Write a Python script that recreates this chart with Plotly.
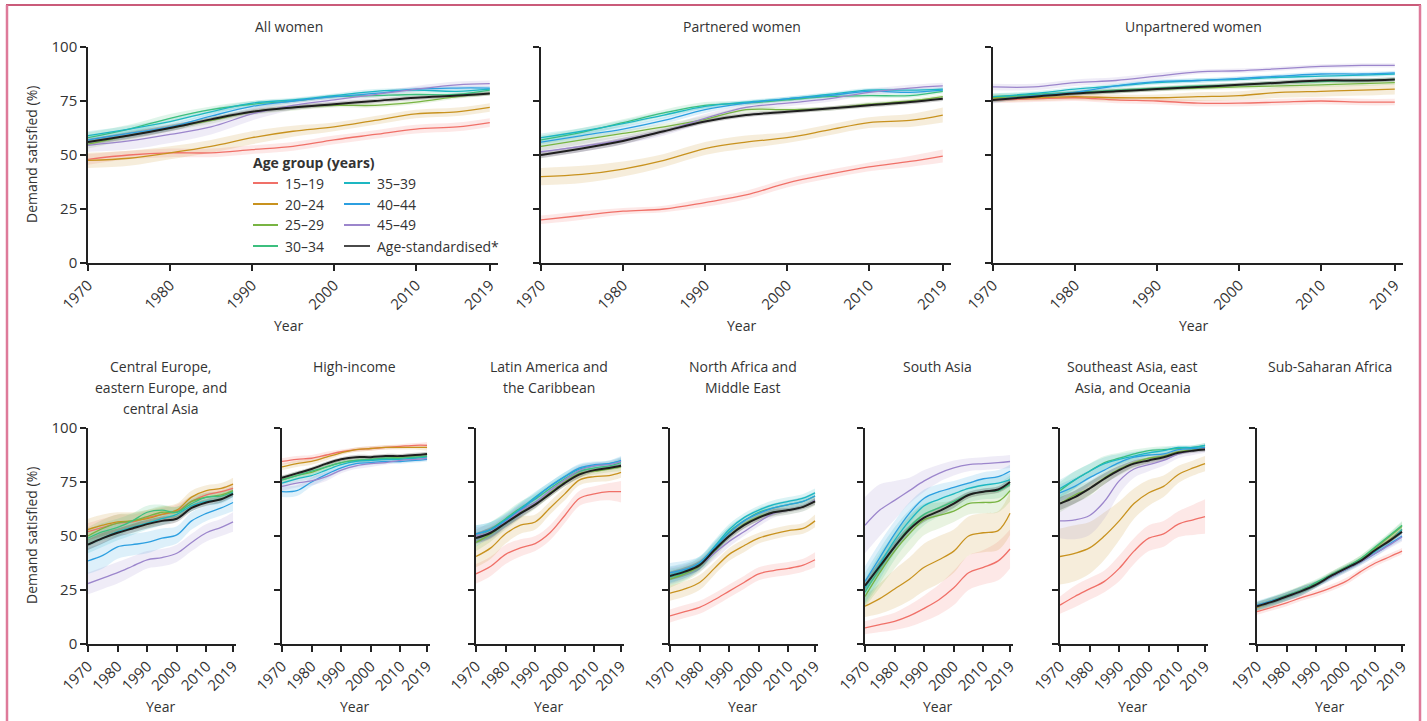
import plotly.graph_objects as go

W, H = 1427, 721

YEARS = [1970, 1975, 1980, 1985, 1990, 1995, 2000, 2005, 2010, 2015, 2019]
AGE_GROUPS = ["15–19", "20–24", "25–29", "30–34", "35–39", "40–44", "45–49", "Age-standardised*"]
LINE_COLORS = ["#F07068", "#C8921E", "#78B443", "#3CBF7E", "#1DB7C2", "#2C9FE0", "#9C86CC", "#1E1E1E"]
X_TICKS = [1970, 1980, 1990, 2000, 2010, 2019]
Y_TICKS = [0, 25, 50, 75, 100]

# ---- central estimates (rows follow AGE_GROUPS) ----
ALL_WOMEN = [
    [48, 50, 51, 51, 52.5, 54, 57, 59.5, 62, 63, 65],
    [47.5, 48.5, 51, 54, 58, 61, 63, 66, 69, 70, 72],
    [55, 59, 62.5, 66, 70, 72, 73, 73, 74.5, 77, 78.5],
    [58, 62, 67, 71, 73.5, 75, 77, 77.5, 78, 78, 80],
    [59, 62, 65.5, 70, 74, 75.5, 77.5, 79.5, 80, 79.5, 80.5],
    [57, 60, 63, 68, 72.5, 75, 77, 78.5, 80.5, 81, 81],
    [54.5, 56.5, 59.5, 63, 69, 73, 75.5, 78, 80.5, 82.5, 83],
    [56, 59, 62.5, 66.5, 70, 72, 73.5, 75, 76.5, 77.5, 78.5],
]
PARTNERED = [
    [20, 22, 24, 25, 28, 31.5, 37, 41, 44.5, 47, 49.5],
    [40, 41, 43.5, 47.5, 53, 56, 58, 61.5, 65, 66, 68.5],
    [54, 57, 60, 63, 66.5, 71, 71, 71.5, 73.5, 75, 77],
    [57, 60.5, 65, 69.5, 73, 74, 75.5, 77, 77.5, 77.5, 79.5],
    [58, 61, 64.5, 68.5, 72.5, 74.5, 76, 78, 80, 80, 80.5],
    [56, 59, 62, 66, 71, 74, 76, 77.5, 79.5, 79, 80],
    [51.5, 54, 57, 61, 67, 72, 74, 76, 79, 81, 82],
    [50, 53, 56.5, 61, 65.5, 68.5, 70, 71.5, 73, 74.5, 76],
]
UNPARTNERED = [
    [75.5, 76, 76.5, 75.5, 75, 74, 74, 74.5, 75, 74.5, 74.5],
    [76, 76.5, 77, 76.5, 76.5, 77, 77.5, 79, 79.5, 80, 80.5],
    [76.5, 77.5, 78.5, 79.5, 80.5, 81, 81.5, 82, 82.5, 83, 83.5],
    [77, 78, 79, 80, 81, 82, 82.5, 83.5, 84, 84.5, 85],
    [77, 78.5, 80.5, 82, 83.5, 84.5, 85, 86, 86.5, 87, 87.5],
    [75.5, 77.5, 79, 82, 84, 84.5, 85.5, 86.5, 87.5, 87.5, 88],
    [81.5, 81.5, 83.5, 84.5, 86.5, 88.5, 89, 90, 91, 91.5, 91.5],
    [75.5, 77, 78.5, 79.5, 80.5, 81.5, 82.5, 83.5, 84.5, 84.5, 85],
]
CENTRAL_EUROPE = [
    [52, 54, 56, 56.5, 58.5, 60, 61.5, 66, 69, 70.5, 72],
    [53, 55, 56.5, 57, 58, 60, 62, 68, 71, 72, 74],
    [50, 53.5, 56, 57, 59, 61, 61, 66, 68, 69, 71],
    [49, 52, 54, 57, 61, 62, 61, 65, 68, 68.5, 70.5],
    [46, 49, 52, 54, 56, 58, 60, 64, 66, 67, 70],
    [38.5, 41, 45, 46, 47, 49, 50.5, 57, 60.5, 63, 65.5],
    [28, 30.5, 33, 36, 39, 40, 42, 47, 51.5, 54, 56.5],
    [46, 49, 51.5, 53.5, 55.5, 57, 58, 63, 65.5, 67, 69.5],
]
HIGH_INCOME = [
    [84.5, 85.5, 86, 87.5, 89, 90, 90.5, 91, 91.5, 92, 92],
    [82, 83.5, 84.5, 86.5, 88.5, 90, 90.5, 91, 91, 91, 91],
    [76, 78, 79.5, 82, 84, 85, 85.5, 86, 86.5, 86.5, 87],
    [76, 78, 80, 82, 84, 85, 85.5, 86, 86, 86.5, 87],
    [74.5, 76.5, 78, 80.5, 83, 84.5, 85, 85.5, 85.5, 86, 86.5],
    [70.5, 71, 75, 78.5, 81.5, 83.5, 84, 84.5, 84.5, 85, 85.5],
    [73, 74.5, 75.5, 77.5, 80.5, 82.5, 83.5, 84, 85, 85.5, 86],
    [77, 79, 81, 83.5, 85.5, 86.5, 86.5, 87, 87, 87.5, 88],
]
LATIN_AMERICA = [
    [32.5, 36, 41.5, 44.5, 46.5, 51.5, 59.5, 67.5, 69.5, 70.5, 70.5],
    [40.5, 44.5, 51, 55, 56.5, 63, 69.5, 76, 77.5, 78, 79.5],
    [47, 51, 56, 61, 65, 70, 75, 79, 80, 81, 82],
    [49, 53, 58, 63, 67, 72, 76.5, 80, 81.5, 82.5, 84],
    [51, 53, 57.5, 62.5, 68, 73, 77.5, 81, 82.5, 83.5, 84.5],
    [51, 53, 57, 62, 67.5, 73, 77.5, 81.5, 83, 83.5, 85],
    [50, 52, 56.5, 61.5, 65.5, 71, 76, 80.5, 82.5, 83, 84.5],
    [49, 51.5, 56, 60.5, 64.5, 69.5, 74.5, 78.5, 80.5, 81.5, 82.5],
]
NORTH_AFRICA = [
    [13, 15, 17, 20.5, 24.5, 28.5, 32.5, 34, 35, 36.5, 39],
    [23.5, 25.5, 28.5, 35, 41.5, 45.5, 49, 51, 52.5, 53.5, 57],
    [30, 32.5, 36, 43, 50, 55.5, 59, 61, 62, 63.5, 66],
    [31, 33, 37, 44, 52, 57, 61, 63, 64.5, 66, 68.5],
    [32, 34, 37.5, 45, 53, 58.5, 62, 64.5, 66, 67.5, 70],
    [33, 34.5, 37.5, 44.5, 51.5, 57, 60.5, 63, 64.5, 66, 68.5],
    [31.5, 33.5, 36.5, 42, 47.5, 52, 56.5, 60.5, 62, 63.5, 66.5],
    [31.5, 33.5, 36.5, 43.5, 50, 55, 58.5, 61, 62, 63.5, 66],
]
SOUTH_ASIA = [
    [7.5, 9, 10.5, 13, 16.5, 20.5, 26, 33, 35.5, 38.5, 44],
    [17.5, 21, 25.5, 30, 35.5, 39, 43, 50, 51.5, 52.5, 60.5],
    [22, 33, 43, 51, 57.5, 59.5, 61.5, 65, 65.5, 66, 71],
    [24, 35, 45, 54, 60, 63, 66, 69, 70.5, 71, 74],
    [26, 37, 48, 57, 64, 67, 69.5, 72, 73.5, 74.5, 76],
    [29, 40, 51, 60.5, 67.5, 70.5, 72.5, 74.5, 76.5, 77.5, 80],
    [55, 62, 66.5, 71, 75.5, 79, 81.5, 83, 83.5, 84, 84.5],
    [27, 36, 45, 53, 58.5, 61.5, 65, 69, 70.5, 71.5, 75],
]
SOUTHEAST_ASIA = [
    [18, 22, 25.5, 29, 35, 43, 49, 51, 55.5, 57.5, 59],
    [40.5, 42, 44.5, 50, 57, 65, 70, 73, 78.5, 81.5, 83.5],
    [65, 69, 72, 77, 81, 84, 86, 87, 89, 90, 91],
    [71, 76, 80, 84, 86, 88, 89.5, 90, 90.5, 91, 92],
    [72, 76, 80, 83.5, 85.5, 87, 88.5, 89.5, 91, 91, 92],
    [70, 73, 77, 80.5, 84, 86.5, 87.5, 88, 90, 90.5, 91],
    [57, 57.5, 59.5, 66, 75.5, 81, 83, 85, 88, 89.5, 90.5],
    [65, 68, 72, 76.5, 80.5, 83.5, 85, 86.5, 88.5, 89.5, 90],
]
SUB_SAHARAN = [
    [15, 17, 19, 21.5, 23.5, 26, 29, 33.5, 37.5, 40.5, 43],
    [17, 19.5, 22, 24.5, 27.5, 31.5, 35, 38.5, 43.5, 48.5, 53],
    [17.5, 19.5, 22, 25, 28, 32, 35.5, 39.5, 44.5, 50, 54.5],
    [17.5, 20, 22.5, 25, 28.5, 32, 35.5, 39.5, 45, 50.5, 55],
    [17.5, 19.5, 22, 24.5, 27.5, 31.5, 35, 38.5, 43, 48, 53],
    [18, 20, 22, 24.5, 27.5, 31, 34.5, 38, 42, 46.5, 50],
    [17.5, 19.5, 22, 24.5, 27.5, 31, 34.5, 38, 42, 46, 49.5],
    [17.5, 19.5, 22, 24.5, 27.5, 31.5, 35, 38.5, 43.5, 48, 52],
]

# ---- half-widths of the uncertainty intervals (rows follow AGE_GROUPS) ----
ALL_WOMEN_HW = [
    [2.5, 2, 2, 2, 2, 2, 2, 2, 2, 2, 2],
    [3.5, 3.5, 3, 3, 3, 2.5, 2, 2, 2, 2, 2],
    [2, 2, 1.5, 1.5, 1.5, 1.5, 1, 1, 1, 1, 1],
    [2.5, 2, 2, 1.5, 1.5, 1, 1, 1, 1, 1, 1],
    [2, 1.5, 1.5, 1.5, 1, 1, 1, 1, 1, 1, 1],
    [2, 2, 1.5, 1.5, 1.5, 1, 1, 1, 1, 1, 1],
    [3, 4, 4, 3.5, 3, 2, 1.5, 1.5, 1.5, 1.5, 1.5],
    [1.5, 1.5, 1.5, 1, 1, 1, 1, 1, 1, 1, 1],
]
PARTNERED_HW = [
    [2, 2, 1.5, 1.5, 2, 2, 2, 2, 2, 2.5, 3],
    [4, 4, 3.5, 3, 3, 3, 2.5, 2.5, 2.5, 3, 3.5],
    [2, 2, 1.5, 1.5, 1.5, 1.5, 1, 1, 1, 1, 1],
    [2, 2, 1.5, 1.5, 1.5, 1, 1, 1, 1, 1, 1],
    [2, 1.5, 1.5, 1.5, 1, 1, 1, 1, 1, 1, 1],
    [2, 2, 1.5, 1.5, 1.5, 1, 1, 1, 1, 1, 1],
    [2.5, 2.5, 2, 2, 2, 1.5, 1.5, 1.5, 1.5, 1.5, 1.5],
    [1.5, 1.5, 1.5, 1, 1, 1, 1, 1, 1, 1, 1],
]
UNPARTNERED_HW = [
    [1.5, 1.5, 1.5, 1.5, 1.5, 1.5, 1.5, 1.5, 1.5, 1.5, 1.5],
    [1.5, 1.5, 1.5, 1.5, 1.5, 2, 2, 2.5, 2.5, 2.5, 2.5],
    [1.5, 1, 1, 1, 1, 1, 1, 1, 1, 1, 1],
    [1.5, 1, 1, 1, 1, 1, 1, 1, 1, 1, 1],
    [1.5, 1, 1, 1, 1, 1, 1, 1, 1, 1, 1],
    [1.5, 1, 1, 1, 1, 1, 1, 1, 1, 1, 1],
    [1.5, 1.5, 1.5, 1.5, 1.5, 1, 1, 1, 1, 1, 1],
    [1, 1, 1, 1, 1, 1, 1, 1, 1, 1, 1],
]
CENTRAL_EUROPE_HW = [
    [4, 4, 4, 3.5, 3, 3, 3, 2.5, 2, 2, 2.5],
    [5, 5, 4.5, 4, 4, 3.5, 3, 3, 2.5, 2.5, 3],
    [4, 4, 4, 3.5, 3, 3, 2.5, 2.5, 2, 2, 2],
    [4, 4, 4, 3.5, 3, 2.5, 2.5, 2, 2, 2, 2],
    [4, 4, 4, 3.5, 3, 3, 2.5, 2.5, 2, 2, 2],
    [6, 6, 5.5, 5, 5, 4.5, 4, 4, 3.5, 3.5, 4],
    [5, 5, 5, 4.5, 4, 4, 4, 4, 4, 4, 4.5],
    [2.5, 2.5, 2, 2, 2, 2, 1.5, 1.5, 1.5, 1.5, 1.5],
]
HIGH_INCOME_HW = [
    [1.5, 1.5, 1.5, 1.5, 1, 1, 1, 1, 1, 1, 1.5],
    [1.5, 1.5, 1.5, 1.5, 1, 1, 1, 1, 1, 1, 1.5],
    [1.5, 1.5, 1.5, 1.5, 1, 1, 1, 1, 1, 1, 1],
    [1.5, 1.5, 1.5, 1.5, 1, 1, 1, 1, 1, 1, 1],
    [1.5, 1.5, 1.5, 1.5, 1, 1, 1, 1, 1, 1, 1],
    [2.5, 2.5, 2, 2, 1.5, 1.5, 1, 1, 1, 1, 1],
    [2, 2, 2, 2, 1.5, 1.5, 1.5, 1, 1, 1, 1],
    [1, 1, 1, 1, 1, 1, 1, 1, 1, 1, 1],
]
LATIN_AMERICA_HW = [
    [4.5, 4.5, 4.5, 4, 3.5, 3.5, 3.5, 3.5, 3.5, 4, 5],
    [5, 5, 4.5, 4, 3.5, 3, 3, 2.5, 2.5, 2.5, 2.5],
    [4, 3.5, 3, 3, 2.5, 2, 2, 2, 1.5, 1.5, 2],
    [4, 3.5, 3, 3, 2.5, 2, 2, 2, 1.5, 1.5, 2],
    [4, 3.5, 3, 3, 2.5, 2, 2, 2, 1.5, 1.5, 2],
    [4, 3.5, 3, 3, 2.5, 2, 2, 2, 1.5, 1.5, 2],
    [4, 3.5, 3, 3, 2.5, 2, 2, 2, 1.5, 1.5, 2],
    [2.5, 2.5, 2, 2, 1.5, 1.5, 1.5, 1.5, 1, 1, 1],
]
NORTH_AFRICA_HW = [
    [3, 3, 3, 3, 3, 3, 3, 3, 3, 3, 3.5],
    [3.5, 3.5, 3.5, 3, 3, 3, 2.5, 2.5, 2.5, 2.5, 3],
    [4, 3.5, 3, 3, 2.5, 2, 2, 2, 2, 2, 2],
    [4, 3.5, 3, 3, 2.5, 2, 2, 2, 2, 2, 2],
    [4, 3.5, 3, 3, 2.5, 2, 2, 2, 2, 2, 2],
    [4.5, 4, 3, 3, 2.5, 2, 2, 2, 2, 2, 2],
    [4, 3.5, 3, 3, 2.5, 2, 2, 2, 2, 2, 2],
    [2, 2, 2, 1.5, 1.5, 1.5, 1.5, 1.5, 1, 1, 1.5],
]
SOUTH_ASIA_HW = [
    [3, 3.5, 4, 5, 6, 7, 8, 8, 8, 9, 9],
    [5, 7, 9, 10, 11, 11, 10, 9, 9, 9, 10],
    [5, 7, 8, 8, 7, 6, 5, 5, 5, 5, 5],
    [6, 7, 6, 6, 5, 4, 4, 3.5, 3.5, 3.5, 4],
    [7, 7, 6, 5, 4, 3.5, 3, 3, 3, 3, 3],
    [7, 7, 6, 5, 4, 3.5, 3, 3, 3, 3, 3],
    [13, 12, 9, 6, 5, 4, 3.5, 3, 3, 3, 3],
    [2.5, 2.5, 2.5, 2, 2, 2, 2, 1.5, 1.5, 1.5, 2],
]
SOUTHEAST_ASIA_HW = [
    [4, 5, 5, 5, 6, 6, 6, 6, 6, 7, 8],
    [13, 13, 12, 11, 9, 7, 6, 5, 4, 3.5, 3.5],
    [4, 4, 3.5, 3, 3, 2.5, 2, 1.5, 1.5, 1, 1],
    [4, 4, 3.5, 3, 2.5, 2, 1.5, 1.5, 1, 1, 1],
    [4, 4, 3.5, 3, 2.5, 2, 1.5, 1.5, 1, 1, 1],
    [4, 4, 3.5, 3, 2.5, 2, 1.5, 1.5, 1, 1, 1],
    [8, 9, 9, 8, 6, 4, 3, 2.5, 2, 2, 2],
    [3, 3, 3, 2.5, 2, 1.5, 1.5, 1.5, 1, 1, 1],
]
SUB_SAHARAN_HW = [
    [1.5, 1.5, 1.5, 1.5, 1.5, 1.5, 1.5, 1.5, 1.5, 1.5, 1.5],
    [2, 2, 2, 2, 1.5, 1.5, 1.5, 1.5, 1.5, 1.5, 2],
    [2, 2, 2, 2, 1.5, 1.5, 1.5, 1.5, 1.5, 1.5, 2],
    [2, 2, 2, 2, 1.5, 1.5, 1.5, 1.5, 1.5, 1.5, 2],
    [2, 2, 2, 2, 1.5, 1.5, 1.5, 1.5, 1.5, 1.5, 2],
    [2, 2, 2, 2, 1.5, 1.5, 1.5, 1.5, 1.5, 1.5, 2],
    [2, 2, 2, 2, 1.5, 1.5, 1.5, 1.5, 1.5, 1.5, 2],
    [1, 1, 1, 1, 1, 1, 1, 1, 1, 1, 1],
]

PANEL_TITLES = [
    "All women", "Partnered women", "Unpartnered women",
    "Central Europe,<br>eastern Europe, and<br>central Asia", "High-income",
    "Latin America and<br>the Caribbean", "North Africa and<br>Middle East", "South Asia",
    "Southeast Asia, east<br>Asia, and Oceania", "Sub-Saharan Africa",
]
PANEL_DATA = [ALL_WOMEN, PARTNERED, UNPARTNERED, CENTRAL_EUROPE, HIGH_INCOME,
              LATIN_AMERICA, NORTH_AFRICA, SOUTH_ASIA, SOUTHEAST_ASIA, SUB_SAHARAN]
PANEL_HW = [ALL_WOMEN_HW, PARTNERED_HW, UNPARTNERED_HW, CENTRAL_EUROPE_HW, HIGH_INCOME_HW,
            LATIN_AMERICA_HW, NORTH_AFRICA_HW, SOUTH_ASIA_HW, SOUTHEAST_ASIA_HW, SUB_SAHARAN_HW]

# ---- layout geometry in pixels ----
TOP_X0 = [88, 541, 993]
TOP_W = 410            # covers 1970-2020
BOT_X0 = [88, 282, 476, 670, 865, 1060, 1257]
BOT_W = 148
TOP_Y = (47, 263)      # (100, 0)
BOT_Y = (428, 644)

FONT = "Open Sans"
TXT = "#333333"
AX = "#222222"


def px(x):
    return x / W


def py(y):
    return 1 - y / H


def rgba(hex_c, a):
    h = hex_c.lstrip("#")
    r, g, b = int(h[0:2], 16), int(h[2:4], 16), int(h[4:6], 16)
    return f"rgba({r},{g},{b},{a})"


fig = go.Figure()
layout = dict(
    width=W, height=H, margin=dict(l=0, r=0, t=0, b=0, pad=0, autoexpand=False),
    paper_bgcolor="white", plot_bgcolor="white", showlegend=False,
    font=dict(family=FONT, color=TXT, size=14),
)
annotations = []
shapes = []

geoms = []
for i in range(3):
    geoms.append((TOP_X0[i], TOP_W, TOP_Y))
for i in range(7):
    geoms.append((BOT_X0[i], BOT_W, BOT_Y))

for p, (x0, w, (ytop, ybot)) in enumerate(geoms):
    n = p + 1
    xa = "x" if n == 1 else f"x{n}"
    ya = "y" if n == 1 else f"y{n}"
    data = PANEL_DATA[p]
    hw = PANEL_HW[p]
    # uncertainty bands
    for s in range(len(AGE_GROUPS)):
        lo = [v - h for v, h in zip(data[s], hw[s])]
        hi = [v + h for v, h in zip(data[s], hw[s])]
        alpha = 0.16 if s < 7 else 0.22
        fig.add_trace(go.Scatter(x=YEARS, y=lo, xaxis=xa, yaxis=ya, mode="lines",
                                 line=dict(width=0, shape="spline", color=LINE_COLORS[s]),
                                 hoverinfo="skip", showlegend=False))
        fig.add_trace(go.Scatter(x=YEARS, y=hi, xaxis=xa, yaxis=ya, mode="lines",
                                 line=dict(width=0, shape="spline", color=LINE_COLORS[s]),
                                 fill="tonexty", fillcolor=rgba(LINE_COLORS[s], alpha),
                                 hoverinfo="skip", showlegend=False))
    # central lines
    for s in range(len(AGE_GROUPS)):
        fig.add_trace(go.Scatter(x=YEARS, y=data[s], xaxis=xa, yaxis=ya, mode="lines",
                                 name=AGE_GROUPS[s],
                                 line=dict(width=2.0 if s == 7 else 1.3, shape="spline",
                                           color=LINE_COLORS[s]),
                                 showlegend=False))
    first_in_row = p in (0, 3)
    xkey = "xaxis" if n == 1 else f"xaxis{n}"
    ykey = "yaxis" if n == 1 else f"yaxis{n}"
    layout[xkey] = dict(
        domain=[px(x0), px(x0 + w)], anchor=ya, range=[1970, 2020], automargin=False,
        tickvals=X_TICKS, ticktext=[str(t) for t in X_TICKS], tickangle=-45,
        showline=True, linecolor=AX, linewidth=1.5, ticks="outside", ticklen=6,
        tickwidth=1.5, tickcolor=AX, showgrid=False, zeroline=False,
        tickfont=dict(family=FONT, size=15, color=TXT), fixedrange=True,
    )
    layout[ykey] = dict(
        domain=[py(ybot), py(ytop)], anchor=xa, range=[0, 100], automargin=False,
        tickvals=Y_TICKS, showticklabels=first_in_row,
        showline=True, linecolor=AX, linewidth=1.5, ticks="outside", ticklen=6,
        tickwidth=1.5, tickcolor=AX, showgrid=False, zeroline=False,
        tickfont=dict(family=FONT, size=15, color=TXT), fixedrange=True,
    )
    # panel title (one annotation per line for exact spacing)
    span_w = w * 49 / 50
    cx = x0 + span_w / 2
    lines = PANEL_TITLES[p].split("<br>")
    y_first = 27 if p < 3 else 366
    for k, line in enumerate(lines):
        annotations.append(dict(x=px(cx), y=py(y_first + 21 * k), xref="paper", yref="paper",
                                text=line, showarrow=False, xanchor="center", yanchor="middle",
                                font=dict(family=FONT, size=14, color=TXT)))
    # x-axis title
    annotations.append(dict(x=px(cx), y=py(325 if p < 3 else 706), xref="paper", yref="paper",
                            text="Year", showarrow=False, xanchor="center", yanchor="middle",
                            font=dict(family=FONT, size=14, color=TXT)))

# y-axis titles
for yc in (155, 536):
    annotations.append(dict(x=px(31), y=py(yc), xref="paper", yref="paper",
                            text="Demand satisfied (%)", textangle=-90, showarrow=False,
                            xanchor="center", yanchor="middle",
                            font=dict(family=FONT, size=14, color=TXT)))

# legend (drawn manually in two columns)
annotations.append(dict(x=px(251), y=py(162), xref="paper", yref="paper",
                        text="<b>Age group (years)</b>", showarrow=False,
                        xanchor="left", yanchor="middle",
                        font=dict(family=FONT, size=14, color=TXT)))
LEG_ROWS = [183, 204, 225, 246]
LEG_COLS = [(253, 278, 283), (344, 370, 375)]
for s, label in enumerate(AGE_GROUPS):
    col, row = divmod(s, 4)
    lx0, lx1, tx = LEG_COLS[col]
    ly = LEG_ROWS[row]
    shapes.append(dict(type="line", xref="paper", yref="paper",
                       x0=px(lx0), x1=px(lx1), y0=py(ly), y1=py(ly),
                       line=dict(color=LINE_COLORS[s] if s < 7 else "#4a4a4a", width=2)))
    annotations.append(dict(x=px(tx), y=py(ly), xref="paper", yref="paper", text=label,
                            showarrow=False, xanchor="left", yanchor="middle",
                            font=dict(family=FONT, size=14, color=TXT)))

# page frame
shapes.append(dict(type="line", xref="paper", yref="paper", x0=px(6), x1=px(1421),
                   y0=py(5), y1=py(5), line=dict(color="#B8244E", width=1.5)))
shapes.append(dict(type="line", xref="paper", yref="paper", x0=px(7), x1=px(7),
                   y0=py(5), y1=py(721), line=dict(color="#DE7A9A", width=2.5)))
shapes.append(dict(type="line", xref="paper", yref="paper", x0=px(1420), x1=px(1420),
                   y0=py(5), y1=py(721), line=dict(color="#DE7A9A", width=2.5)))

layout["annotations"] = annotations
layout["shapes"] = shapes
fig.update_layout(**layout)
fig.write_html("out.html", config={"displayModeBar": False},
               post_script="document.body.style.margin='0px';")
